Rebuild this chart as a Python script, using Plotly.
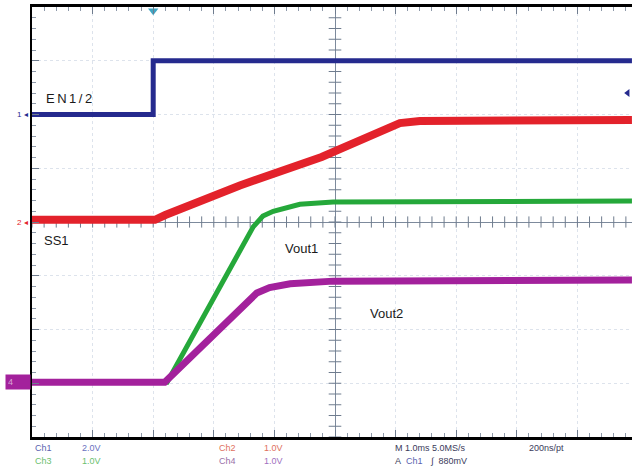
import numpy as np
import plotly.graph_objects as go

# ---- data (time in ms / screen divisions, amplitude in screen divisions) ----
ch1_t = [-5.0, -3.0, -3.0, 4.9]
ch1_v = [2.0, 2.0, 3.0, 3.0]

ch2_t = [-5.0, -2.97, -2.80, -1.57, -0.22, 0.74, 1.07, 1.40, 4.9]
ch2_v = [0.04, 0.04, 0.13, 0.68, 1.21, 1.70, 1.84, 1.88, 1.90]

ch3_t = [-5.0, -2.77, -1.35, -1.19, -1.02, -0.58, -0.03, 4.9]
ch3_v = [-2.98, -2.98, -0.09, 0.11, 0.20, 0.33, 0.37, 0.39]

ch4_t = [-5.0, -2.81, -1.29, -1.08, -0.74, -0.03, 4.9]
ch4_v = [-2.98, -2.98, -1.32, -1.22, -1.15, -1.10, -1.08]

labels = ["EN1/2", "SS1", "Vout1", "Vout2"]
label_t = [-4.8, -4.84, -0.85, 0.55]
label_v = [2.30, -0.35, -0.49, -1.70]

trig_t, trig_level = -3.0, 2.4

C1, C2, C3, C4 = "#252a8e", "#e3222b", "#25a83a", "#a3219c"

fig = go.Figure()

# crosshair tick marks (graticule decoration)
fig.add_trace(go.Scatter(x=np.arange(-5, 4.95, 0.2), y=np.zeros(50), mode="markers",
                         marker=dict(symbol="line-ns", size=8, line=dict(width=1, color="#6f7c8e")),
                         hoverinfo="skip", showlegend=False))
fig.add_trace(go.Scatter(x=np.zeros(41), y=np.arange(-4, 4.01, 0.2), mode="markers",
                         marker=dict(symbol="line-ew", size=9, line=dict(width=1, color="#6f7c8e")),
                         hoverinfo="skip", showlegend=False))

fig.add_trace(go.Scatter(x=ch1_t, y=ch1_v, mode="lines", line=dict(color=C1, width=5), showlegend=False))
fig.add_trace(go.Scatter(x=ch2_t, y=ch2_v, mode="lines", line=dict(color=C2, width=8), showlegend=False))
fig.add_trace(go.Scatter(x=ch3_t, y=ch3_v, mode="lines", line=dict(color=C3, width=5), showlegend=False))
fig.add_trace(go.Scatter(x=ch4_t, y=ch4_v, mode="lines", line=dict(color=C4, width=7), showlegend=False))

# trigger markers
fig.add_trace(go.Scatter(x=[trig_t], y=[3.93], mode="markers", cliponaxis=False,
                         marker=dict(symbol="triangle-down", size=9, color="#3fa6c4"),
                         showlegend=False))
fig.add_trace(go.Scatter(x=[4.83], y=[trig_level], mode="markers", cliponaxis=False,
                         marker=dict(symbol="triangle-left", size=7, color=C1),
                         showlegend=False))

for txt, t, v in zip(labels, label_t, label_v):
    style = "letter-spacing:2.5px" if txt == "EN1/2" else "letter-spacing:0px"
    fig.add_annotation(x=t, y=v, text=f"<span style='{style}'>{txt}</span>", showarrow=False,
                       xanchor="left", yanchor="middle",
                       font=dict(family="Liberation Sans, Arial", size=13, color="#1a1a1a"))

# channel ground markers on left
for txt, v, col in [("1", 2.0, C1), ("2", 0.0, C2)]:
    fig.add_annotation(x=-5, y=v, text=txt + " ◂", showarrow=False, xanchor="right", xshift=-2,
                       font=dict(family="Liberation Sans", size=8, color=col))
fig.add_annotation(x=-5, y=-2.98, text="4 ", showarrow=False, xanchor="right", xshift=-1,
                   bgcolor=C4, font=dict(family="Liberation Sans", size=9, color="#d9a6d6"),
                   borderpad=2, width=20, align="left")

# status text at bottom
def px(xp):
    return (xp - 32) / 600.0

def py(yp):
    return (437 - yp) / 430.0

status = [
    ("Ch1", 33, 448, "#5a5fb0"), ("2.0V", 80, 448, "#6a6fc0"),
    ("Ch3", 33, 461, "#6cc070"), ("1.0V", 80, 461, "#6cc070"),
    ("Ch2", 217, 448, "#e07060"), ("1.0V", 262, 448, "#e07060"),
    ("Ch4", 217, 461, "#9a6fa8"), ("1.0V", 262, 461, "#a070c0"),
    ("M 1.0ms 5.0MS/s", 393, 448, "#3a3a5a"), ("200ns/pt", 527, 448, "#3a3a5a"),
    ("A", 393, 461, "#3a3a5a"), ("Ch1", 404, 461, "#5a5fb0"), ("∫  880mV", 428, 461, "#3a3a5a"),
]
for txt, xp, yp, col in status:
    fig.add_annotation(xref="paper", yref="paper", x=px(xp), y=py(yp), text=txt, showarrow=False,
                       xanchor="left", yanchor="middle",
                       font=dict(family="Liberation Sans, Arial", size=9, color=col))

fig.update_layout(
    width=632, height=470,
    margin=dict(l=32, r=0, t=7, b=33),
    paper_bgcolor="white", plot_bgcolor="white",
    xaxis=dict(range=[-5, -5 + 600 / 60.6], dtick=1, tick0=0, showticklabels=False,
               showgrid=True, gridcolor="#dde3ec", griddash="dot", gridwidth=1,
               zeroline=True, zerolinecolor="#7d8a9c", zerolinewidth=1,
               showline=True, linecolor="black", linewidth=3, mirror="allticks",
               ticks="inside", ticklen=7, tickcolor="#6f7c8e",
               minor=dict(dtick=0.2, ticks="inside", ticklen=4, tickcolor="#8f9aaa", showgrid=False)),
    yaxis=dict(range=[-4, 4], dtick=1, tick0=0, showticklabels=False,
               showgrid=True, gridcolor="#dde3ec", griddash="dot", gridwidth=1,
               zeroline=True, zerolinecolor="#7d8a9c", zerolinewidth=1,
               showline=True, linecolor="black", linewidth=2, mirror=False,
               ticks="inside", ticklen=7, tickcolor="#6f7c8e",
               minor=dict(dtick=0.2, ticks="inside", ticklen=4, tickcolor="#8f9aaa", showgrid=False)),
)

fig.write_html("out.html", config={"displayModeBar": False},
               post_script="document.body.style.margin='0';document.body.style.overflow='hidden';")
